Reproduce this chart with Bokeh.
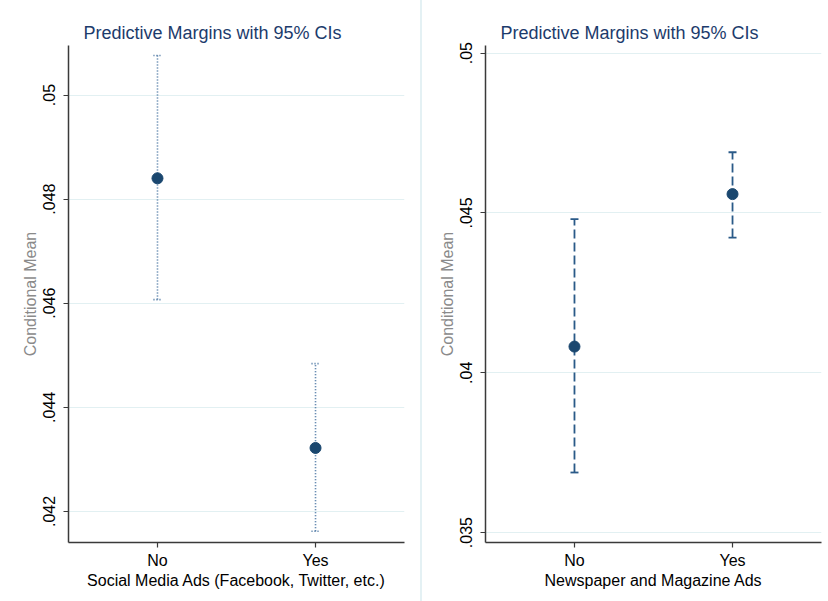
from bokeh.plotting import figure
from bokeh.layouts import row
from bokeh.models import FixedTicker, ColumnDataSource, Spacer
from bokeh.embed import file_html
from bokeh.resources import INLINE

# ---- data ----
categories = ["No", "Yes"]
x_pos = [0, 1]

social_mean = [0.04840, 0.04322]
social_lo = [0.04607, 0.04162]
social_hi = [0.05076, 0.04484]

news_mean = [0.04082, 0.04559]
news_lo = [0.03688, 0.04423]
news_hi = [0.04481, 0.04690]

left_ticks = [0.042, 0.044, 0.046, 0.048, 0.05]
left_tick_labels = [".042", ".044", ".046", ".048", ".05"]
right_ticks = [0.035, 0.04, 0.045, 0.05]
right_tick_labels = [".035", ".04", ".045", ".05"]

title_text = "Predictive Margins with 95% CIs"
y_title = "Conditional Mean"
left_x_title = "Social Media Ads (Facebook, Twitter, etc.)"
right_x_title = "Newspaper and Magazine Ads"

FONT = "Liberation Sans"
NAVY = "#1a476f"
GRID = "#e2f0f2"
AXIS = "#3a3a3a"
H = 601


def make_panel(width, border_left, border_right, y_range, ticks, tick_labels,
               xtitle, mean, lo, hi, dash, bar_color, bar_width):
    p = figure(width=width, height=H, output_backend="svg", toolbar_location=None,
               x_range=(-0.563, 1.563), y_range=y_range,
               min_border_left=border_left, min_border_right=border_right,
               min_border_top=45, min_border_bottom=59)
    p.outline_line_color = None
    p.background_fill_color = "white"
    p.border_fill_color = "white"

    p.title.text = title_text
    p.title.align = "left"
    p.title.offset = 15
    p.title.standoff = 5
    p.title.text_font = FONT
    p.title.text_font_size = "18px"
    p.title.text_font_style = "normal"
    p.title.text_color = "#1c3b6c"

    # x axis
    xa = p.xaxis[0]
    xa.ticker = FixedTicker(ticks=x_pos)
    xa.major_label_overrides = {x: c for x, c in zip(x_pos, categories)}
    xa.axis_label = xtitle
    xa.axis_label_text_font = FONT
    xa.axis_label_text_font_size = "16px"
    xa.axis_label_text_font_style = "normal"
    xa.axis_label_text_color = "black"
    xa.axis_label_standoff = 0
    xa.major_label_text_font = FONT
    xa.major_label_text_font_size = "16px"
    xa.major_label_text_color = "black"
    xa.major_label_standoff = 4
    xa.major_tick_out = 5
    xa.major_tick_in = 0
    xa.minor_tick_out = 0
    xa.minor_tick_in = 0
    xa.axis_line_color = AXIS
    xa.axis_line_width = 1.5
    xa.major_tick_line_color = AXIS
    xa.major_tick_line_width = 1.2

    # y axis
    ya = p.yaxis[0]
    ya.ticker = FixedTicker(ticks=ticks)
    ya.major_label_overrides = {t: l for t, l in zip(ticks, tick_labels)}
    ya.major_label_orientation = "vertical"
    ya.axis_label = y_title
    ya.axis_label_text_font = FONT
    ya.axis_label_text_font_size = "16px"
    ya.axis_label_text_font_style = "normal"
    ya.axis_label_text_color = "#8a8a8a"
    ya.axis_label_standoff = 2
    ya.major_label_text_font = FONT
    ya.major_label_text_font_size = "16px"
    ya.major_label_text_color = "black"
    ya.major_label_standoff = 8
    ya.major_tick_out = 5
    ya.major_tick_in = 0
    ya.minor_tick_out = 0
    ya.minor_tick_in = 0
    ya.axis_line_color = AXIS
    ya.axis_line_width = 1.5
    ya.major_tick_line_color = AXIS
    ya.major_tick_line_width = 1.2

    p.xgrid.grid_line_color = None
    p.ygrid.grid_line_color = GRID
    p.ygrid.grid_line_width = 1.2

    src = ColumnDataSource(dict(x=x_pos, mean=mean, lo=lo, hi=hi))
    p.segment(x0="x", y0="lo", x1="x", y1="hi", source=src,
              line_color=bar_color, line_width=bar_width, line_dash=dash)
    p.scatter(x="x", y="hi", source=src, marker="dash", size=8,
              line_color=bar_color, line_width=bar_width, line_dash=dash)
    p.scatter(x="x", y="lo", source=src, marker="dash", size=8,
              line_color=bar_color, line_width=bar_width, line_dash=dash)
    p.scatter(x="x", y="mean", source=src, marker="circle", size=11,
              fill_color=NAVY, line_color=NAVY)
    return p


left = make_panel(420, 68, 16, (0.041404, 0.050951), left_ticks, left_tick_labels,
                  left_x_title, social_mean, social_lo, social_hi,
                  "1 2", "#3a6a9a", 1.6)
sep = Spacer(width=2, height=H, styles={"background-color": "#e4f1f4"})
right = make_panel(406, 63, 7, (0.03469, 0.05024), right_ticks, right_tick_labels,
                   right_x_title, news_mean, news_lo, news_hi,
                   "9 4", "#2a5a88", 1.8)

layout = row(left, sep, right)
open("out.html", "w").write(file_html(layout, INLINE))
